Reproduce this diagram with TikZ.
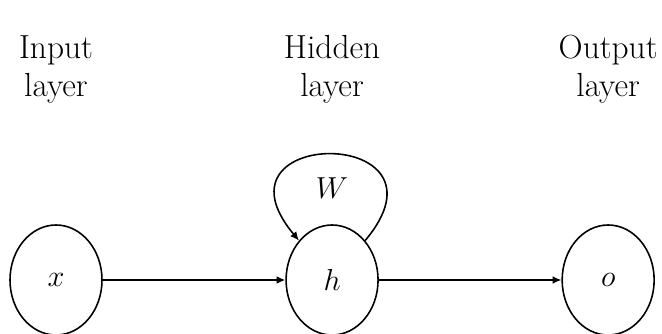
\documentclass[tikz,border=0pt]{standalone}
\usepackage{tikz}
\usetikzlibrary{positioning, arrows.meta, shapes.geometric}

\begin{document}
\begin{tikzpicture}[
        neuron/.style={ellipse, draw=black, line width=0.9pt, minimum width=1.84cm, minimum height=2.2cm, inner sep=0pt, font=\fontsize{19}{22.8}\selectfont},
        layerlabel/.style={align=center, inner sep=0pt, font=\fontsize{19}{21.6}\selectfont},
        arrow/.style={-{Latex[length=5pt, width=4.5pt]}, line width=0.9pt, draw=black}
    ]
        \useasboundingbox (0,0) rectangle (13.24,6.66);

        % --- UNITS ---
        \node[neuron] (x) at (1.12,1.06) {$x$};
        \node[neuron, right=3.65cm of x] (h) {$h$};
        \node[neuron, right=3.65cm of h] (o) {$o$};

        % --- LAYER NAMES ---
        \node[layerlabel, above=2.42cm of x] (inlabel) {Input\\layer};
        \node[layerlabel, above=2.42cm of h] (hidlabel) {Hidden\\layer};
        \node[layerlabel, above=2.42cm of o] (outlabel) {Output\\layer};

        % --- CONNECTIONS ---
        \draw[arrow] (x) -- (h);
        \draw[arrow] (h) -- (o);
        \draw[arrow] (h.50) to[out=50, in=130, distance=3cm] node[below=0.45cm, inner sep=0pt, font=\fontsize{19}{22.8}\selectfont] (wlabel) {$W$} (h.130);

    \end{tikzpicture}
\end{document}
